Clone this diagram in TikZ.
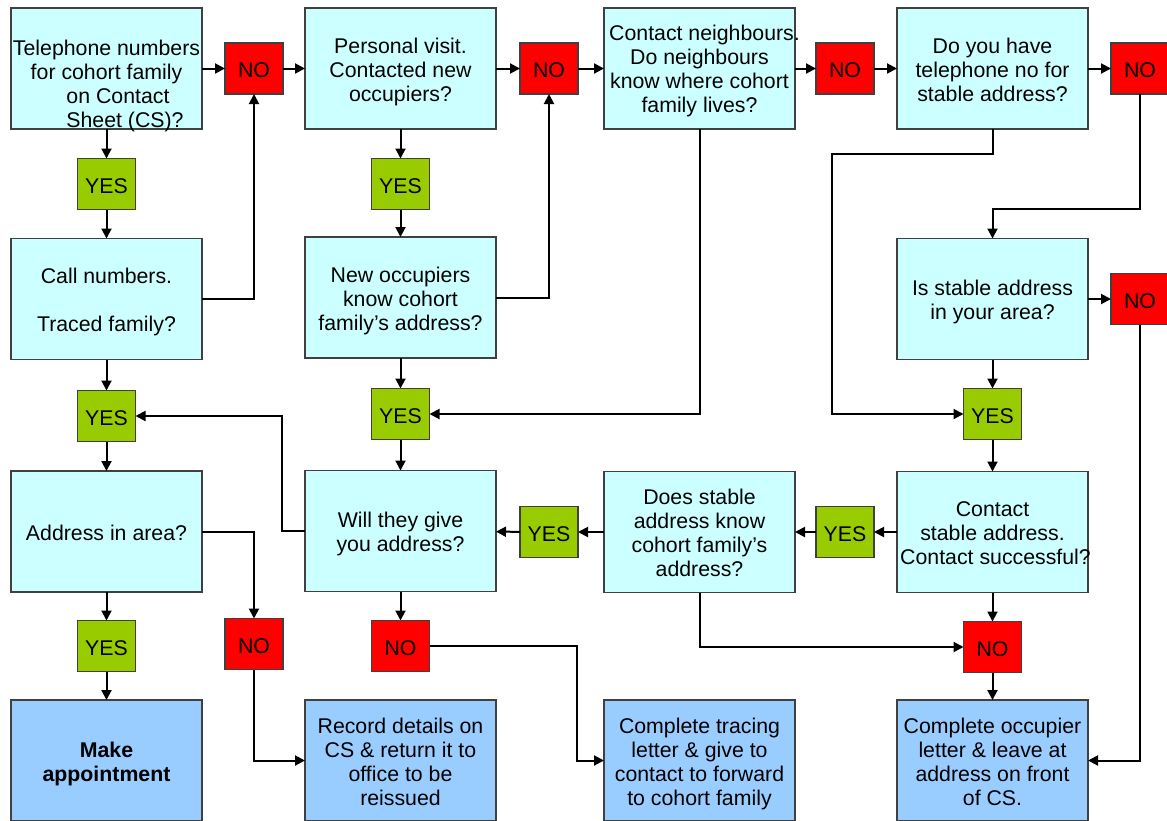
\documentclass[tikz,border=0pt]{standalone}
\usepackage{fontspec}
\setmainfont{Liberation Sans}
\usetikzlibrary{arrows.meta}
\definecolor{qcyan}{HTML}{CCFFFF}
\definecolor{ablue}{HTML}{99CCFF}
\definecolor{ygreen}{HTML}{99CC00}
\definecolor{nred}{HTML}{FF0000}
\definecolor{edgegray}{HTML}{404040}
\newcommand\bxlines[2][4pt]{\makebox[0pt]{\raisebox{-#1}[\height][\depth]{\begin{tabular}{@{}c@{}}#2\end{tabular}}}}
\newcommand\smtxt[1]{\raisebox{-2pt}[\height][\depth]{#1}}
\begin{document}
\begin{tikzpicture}[x=1pt,y=-1pt,
  every node/.style={font=\fontsize{21.3}{24}\selectfont, inner sep=0pt, outer sep=0pt},
  qbox/.style={draw=edgegray, line width=1.2pt, fill=qcyan, minimum width=191pt, minimum height=121pt},
  abox/.style={qbox, fill=ablue},
  yesbox/.style={draw=edgegray, line width=1.2pt, fill=ygreen, minimum width=58pt, minimum height=51pt},
  nobox/.style={yesbox, fill=nred},
  conn/.style={line width=2pt, -{Triangle[length=10pt,width=10pt]}}
]
\path[use as bounding box] (0,0) rectangle (1167,820);

% big boxes
\node[qbox] (a1) at (106.5,68.5) {\bxlines[18pt]{Telephone numbers\\ for cohort family\\ \hspace*{23pt}on Contact\\ \hspace*{37pt}Sheet (CS)?}};
\node[qbox] (a2) at (400.5,68.5) {\bxlines{Personal visit.\\ Contacted new\\ occupiers?}};
\node[qbox] (a3) at (699.5,68.5) {\bxlines[3pt]{\hspace*{10pt}Contact neighbours.\\ Do neighbours\\ know where cohort\\ family lives?}};
\node[qbox] (a4) at (992.5,68.5) {\bxlines{Do you have\\ telephone no for\\ stable address?}};

\node[qbox] (b1) at (106.5,299) {\bxlines{Call numbers.\\[24pt] Traced family?}};
\node[qbox] (b2) at (400.5,297.5) {\bxlines{New occupiers\\ know cohort\\ family’s address?}};
\node[qbox] (b4) at (992.5,299) {\bxlines{Is stable address\\ in your area?}};

\node[qbox] (c1) at (106.5,531.5) {\bxlines{Address in area?}};
\node[qbox] (c2) at (400.5,531) {\bxlines{Will they give\\ you address?}};
\node[qbox] (c3) at (699.5,532) {\bxlines{Does stable\\ address know\\ cohort family’s\\ address?}};
\node[qbox] (c4) at (992.5,532) {\bxlines{Contact\\ stable address.\\ \hspace*{6pt}Contact successful?}};

\node[abox] (d1) at (106.5,760.5) {\bxlines{\textbf{Make}\\ \textbf{appointment}}};
\node[abox] (d2) at (400.5,760.5) {\bxlines{Record details on\\ CS \& return it to\\ office to be\\ reissued}};
\node[abox] (d3) at (699.5,760.5) {\bxlines{Complete tracing\\ letter \& give to\\ contact to forward\\ to cohort family}};
\node[abox] (d4) at (992.5,760.5) {\bxlines{Complete occupier\\ letter \& leave at\\ address on front\\ of CS.}};

% small boxes
\node[nobox] (no1) at (254,68.5) {\smtxt{NO}};
\node[nobox] (no2) at (549,68.5) {\smtxt{NO}};
\node[nobox] (no3) at (845,68.5) {\smtxt{NO}};
\node[nobox] (no4) at (1140,68.5) {\smtxt{NO}};
\node[yesbox] (yes1) at (106.5,184) {\smtxt{YES}};
\node[yesbox] (yes2) at (400.5,184) {\smtxt{YES}};
\node[nobox] (no5) at (1140,299) {\smtxt{NO}};
\node[yesbox] (yes3) at (106.5,416) {\smtxt{YES}};
\node[yesbox] (yes4) at (400.5,414) {\smtxt{YES}};
\node[yesbox] (yes5) at (992.5,414) {\smtxt{YES}};
\node[yesbox] (yes6) at (549,532) {\smtxt{YES}};
\node[yesbox] (yes7) at (845,532) {\smtxt{YES}};
\node[yesbox] (yes8) at (106.5,646) {\smtxt{YES}};
\node[nobox] (no6) at (254,644) {\smtxt{NO}};
\node[nobox] (no7) at (400.5,646) {\smtxt{NO}};
\node[nobox] (no8) at (992.5,647) {\smtxt{NO}};

% bend points
\coordinate (k1) at (832,154);
\coordinate (k2) at (992.5,209);
\coordinate (k3) at (282,531);
\coordinate (k4) at (577,646);

% row 1
\draw[conn] (a1) -- (no1);
\draw[conn] (no1) -- (a2);
\draw[conn] (a2) -- (no2);
\draw[conn] (no2) -- (a3);
\draw[conn] (a3) -- (no3);
\draw[conn] (no3) -- (a4);
\draw[conn] (a4) -- (no4);

% column 1
\draw[conn] (a1) -- (yes1);
\draw[conn] (yes1) -- (b1);
\draw[conn] (b1) -- (yes3);
\draw[conn] (yes3) -- (c1);
\draw[conn] (c1) -- (yes8);
\draw[conn] (yes8) -- (d1);
\draw[conn] (b1.east) -| (no1.south);
\draw[conn] (c1.east) -| (no6.north);
\draw[conn] (no6.south) |- (d2.west);

% column 2
\draw[conn] (a2) -- (yes2);
\draw[conn] (yes2) -- (b2);
\draw[conn] (b2) -- (yes4);
\draw[conn] (yes4) -- (c2);
\draw[conn] (c2) -- (no7);
\draw[conn] (b2.east) -| (no2.south);
\draw[conn] (c2.west) -- (k3) |- (yes3.east);
\draw[conn] (no7.east) -- (k4) |- (d3.west);

% column 3
\draw[conn] (a3.south) |- (yes4.east);
\draw[conn] (c3.south) |- (no8.west);

% column 4
\draw[conn] (a4.south) |- (k1) |- (yes5.west);
\draw[conn] (no4.south) |- (k2) -- (b4.north);
\draw[conn] (b4) -- (no5);
\draw[conn] (b4) -- (yes5);
\draw[conn] (yes5) -- (c4);
\draw[conn] (no5.south) |- (d4.east);
\draw[conn] (c4) -- (no8);
\draw[conn] (no8) -- (d4);

% row 3
\draw[conn] (c4) -- (yes7);
\draw[conn] (yes7) -- (c3);
\draw[conn] (c3) -- (yes6);
\draw[conn] (yes6) -- (c2);
\end{tikzpicture}
\end{document}
